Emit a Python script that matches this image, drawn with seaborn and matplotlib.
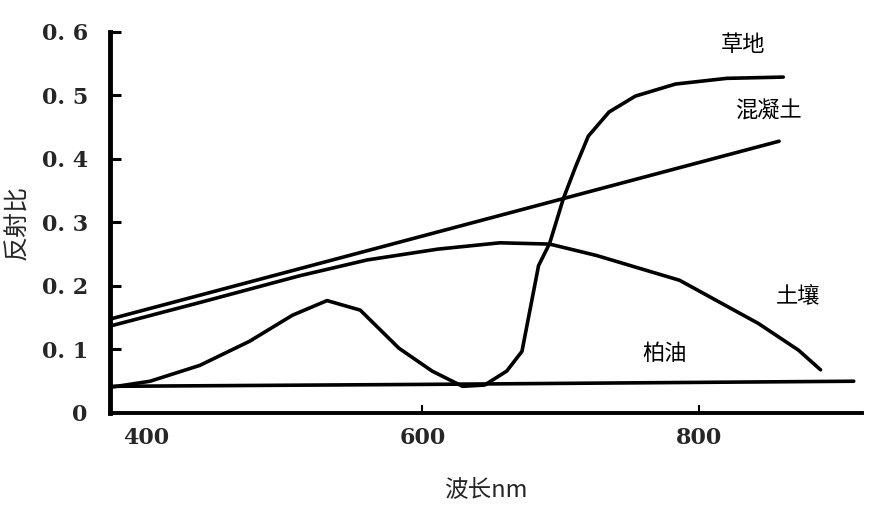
import matplotlib
matplotlib.use("Agg")
import matplotlib.pyplot as plt
import seaborn as sns
import pandas as pd

# wavelength (nm) / reflectance values
grass_nm = [376, 403, 439, 475, 506, 531, 555, 583, 607, 629, 645, 661, 672, 684, 692, 702, 711, 720, 735, 754, 783, 820, 861]
grass_val = [0.041, 0.05, 0.075, 0.113, 0.154, 0.177, 0.162, 0.102, 0.066, 0.042, 0.044, 0.066, 0.097, 0.232, 0.267, 0.338, 0.389, 0.436, 0.474, 0.499, 0.518, 0.527, 0.529]

concrete_nm = [376, 858]
concrete_val = [0.149, 0.428]

soil_nm = [376, 439, 511, 560, 611, 656, 692, 726, 786, 843, 872, 888]
soil_val = [0.138, 0.174, 0.216, 0.241, 0.258, 0.268, 0.266, 0.248, 0.209, 0.141, 0.099, 0.068]

asphalt_nm = [376, 600, 912]
asphalt_val = [0.042, 0.045, 0.05]

labels = ["草地", "混凝土", "土壤", "柏油"]
label_pos = [(832, 0.58), (850, 0.476), (872, 0.184), (775, 0.094)]

x_ticks = [400, 600, 800]
y_ticks = [0, 0.1, 0.2, 0.3, 0.4, 0.5, 0.6]
y_ticklabels = ["0", "0. 1", "0. 2", "0. 3", "0. 4", "0. 5", "0. 6"]

sns.set_style("white")
plt.rcParams["font.family"] = ["Noto Sans CJK SC", "DejaVu Sans"]

fig = plt.figure(figsize=(8.71, 5.12), dpi=100)
ax = fig.add_axes([0.1263, 0.1934, 0.8634, 0.7441])

series = [(grass_nm, grass_val), (concrete_nm, concrete_val),
          (soil_nm, soil_val), (asphalt_nm, asphalt_val)]
for xs, ys in series:
    df = pd.DataFrame({"nm": xs, "r": ys})
    sns.lineplot(data=df, x="nm", y="r", ax=ax, color="black", lw=2.6, estimator=None)

for text, (tx, ty) in zip(labels, label_pos):
    ax.text(tx, ty, text, fontsize=16, ha="center", va="center", color="black")

ax.set_xlim(374, 918)
ax.set_ylim(0, 0.6)
ax.set_xticks(x_ticks)
ax.set_yticks(y_ticks)
ax.set_xticklabels([str(v) for v in x_ticks], fontsize=16, family="DejaVu Serif", fontweight="bold")
ax.set_yticklabels(y_ticklabels, fontsize=16, family="DejaVu Serif", fontweight="bold")
ax.tick_params(axis="y", left=True, direction="in", length=8, width=2.2, pad=16, color="black")
ax.tick_params(axis="x", bottom=True, direction="in", length=6, width=1.5, pad=10, color="black")
# the original has no tick mark at 400 and none at 0
ax.xaxis.get_major_ticks()[0].tick1line.set_visible(False)
ax.yaxis.get_major_ticks()[0].tick1line.set_visible(False)

sns.despine(ax=ax)
ax.spines["left"].set_linewidth(3.5)
ax.spines["bottom"].set_linewidth(2.8)
ax.spines["left"].set_color("black")
ax.spines["bottom"].set_color("black")

ax.set_xlabel("波长nm", fontsize=17, labelpad=22)
ax.set_ylabel("反射比", fontsize=18, labelpad=8)

fig.savefig("out.png", dpi=100)
